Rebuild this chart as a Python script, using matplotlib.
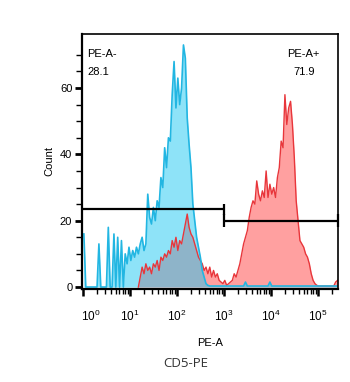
import numpy as np
import matplotlib.pyplot as plt
from matplotlib.ticker import FixedLocator, LogLocator, NullFormatter
from matplotlib.transforms import ScaledTranslation

plt.rcParams['font.family'] = ['Liberation Sans', 'DejaVu Sans']
plt.rcParams['mathtext.fontset'] = 'custom'
plt.rcParams['mathtext.rm'] = 'Liberation Sans'
plt.rcParams['mathtext.it'] = 'Liberation Sans:italic'

# histogram bins, 0.04 decade wide starting at 10^0
bin_width = 0.04

# control (blue) counts per bin
blue_counts = [16, 0, 0, 0, 0, 0, 0, 0, 13, 0, 0, 0, 0, 18, 0, 0, 16, 0, 15, 0,
               14, 0, 10, 7, 12, 8, 11, 9, 12, 10, 13, 15, 11, 13, 28, 21, 19, 24, 20, 26,
               24, 33, 30, 42, 36, 45, 44, 58, 68, 54, 63, 55, 60, 73, 69, 51, 43, 36, 25, 20,
               15, 12, 9, 5, 3, 1, 0.5, 0.3, 0.3, 0.3, 0.3, 0.3, 0.3, 0.3, 0.3, 0.3, 0.3, 0.3, 0.3, 0.3,
               0.3, 0.3, 0.3, 0.3, 0.3, 0.3, 1.5, 0.3, 0.3, 0.3, 0.3, 0.3, 0.3, 0.3, 0.3, 0.3, 0.3, 0.3, 0.3, 1.5,
               0.3, 0.3, 0.3, 0.3, 0.3, 0.3, 0.3, 0.3, 0.3, 0.3, 0.3, 0.3, 0.3, 0.3, 0.3, 0.3, 0.3, 0.3, 0.3, 0.3,
               0.3, 0.3, 0.3, 0.3, 0.3, 0.3, 0.3, 0.3, 0.3, 0.3, 0.3, 0.3, 0.3, 0.3, 0.3, 0.3]

# CD5-PE stained (red) counts per bin
red_counts = [0, 0, 0, 0, 0, 0, 0, 0, 0, 0, 0, 0, 0, 0, 0, 0, 0, 0, 0, 0,
              0, 0, 0, 0, 0, 0, 0, 0, 0, 0, 3, 6, 4, 7, 5, 6, 4, 7, 6, 8,
              5, 9, 8, 10, 9, 11, 10, 14, 12, 15, 11, 14, 13, 16, 19, 22, 18, 16, 15, 13,
              11, 9, 8, 7, 5, 6, 4, 6, 3, 5, 3, 4, 2, 1.5, 1, 2, 0.5, 1, 1.5, 2,
              4, 3, 5, 7, 10, 13, 15, 17, 21, 24, 26, 25, 32, 28, 26, 29, 27, 35, 27, 31,
              28, 30, 27, 33, 36, 44, 42, 58, 49, 54, 56, 49, 39, 26, 20, 14, 13, 12, 10, 9,
              7, 4, 2, 1, 0.5, 0.3, 0.3, 0.3, 0.3, 0.3, 0.3, 0.3, 0.3, 0.3, 1.5, 2]

decades = [0, 1, 2, 3, 4, 5]
neg_gate = (10 ** -0.02, 1e3, 23.5)   # x start, x end, count level
pos_gate = (1e3, 10 ** 5.43, 20)
neg_label, neg_pct = 'PE-A-', '28.1'
pos_label, pos_pct = 'PE-A+', '71.9'

x = 10 ** ((np.arange(len(blue_counts)) + 0.5) * bin_width)
blue = np.array(blue_counts)
red = np.array(red_counts)

fig = plt.figure(figsize=(3.5, 3.82), dpi=100)
ax = fig.add_axes([82 / 350, 93 / 382, 256 / 350, 255 / 382])

# red first so the translucent blue sits on top of it
ax.fill_between(x[29:], red[29:], 0, color='#ffa0a0', lw=0)
ax.plot(x[29:], red[29:], color='#e8363b', lw=1)
ax.fill_between(x, blue, 0, color='#1ec8f2', alpha=0.5, lw=0)
ax.plot(x, blue, color='#22b6e2', lw=1.2)

# gates
ax.hlines(neg_gate[2], neg_gate[0], neg_gate[1], color='black', lw=1.6, clip_on=False)
ax.vlines(neg_gate[1], neg_gate[2] - 1.7, neg_gate[2] + 1.5, color='black', lw=1.6)
ax.hlines(pos_gate[2], pos_gate[0], pos_gate[1], color='black', lw=1.6, clip_on=False)
ax.vlines([pos_gate[0], pos_gate[1]], pos_gate[2] - 2, pos_gate[2] + 2,
          color='black', lw=1.6, clip_on=False)

ax.set_xscale('log')
ax.set_xlim(10 ** -0.02, 10 ** 5.43)
ax.set_ylim(-0.6, 76.3)

ax.set_xticks([10 ** d for d in decades])
ax.set_xticklabels(['$10^{%d}$' % d for d in decades])
ax.xaxis.set_minor_locator(LogLocator(base=10, subs=np.arange(2, 10)))
ax.xaxis.set_minor_formatter(NullFormatter())
ax.set_yticks([0, 20, 40, 60])
ax.yaxis.set_minor_locator(FixedLocator([5, 10, 15, 25, 30, 35, 45, 50, 55, 65, 70]))

ax.tick_params(axis='x', which='major', length=5, width=1.8, pad=9, labelsize=8.5)
ax.tick_params(axis='x', which='minor', length=3.5, width=1)
ax.tick_params(axis='y', which='major', length=5, width=2, pad=2, labelsize=8)
ax.tick_params(axis='y', which='minor', length=4, width=1)

# first decade label sits a bit right of its tick
first = ax.get_xticklabels()[0]
first.set_transform(first.get_transform() + ScaledTranslation(8 / 100, 0, fig.dpi_scale_trans))

for side in ['top', 'right']:
    ax.spines[side].set_linewidth(1.2)
for side in ['left', 'bottom']:
    ax.spines[side].set_linewidth(1.6)

ax.set_xlabel('PE-A', fontsize=8, labelpad=10)
ax.set_ylabel('Count', fontsize=8, labelpad=4)

ax.text(0.02, 0.91, neg_label, transform=ax.transAxes, fontsize=8)
ax.text(0.02, 0.839, neg_pct, transform=ax.transAxes, fontsize=8)
ax.text(0.926, 0.91, pos_label, transform=ax.transAxes, fontsize=8, ha='right')
ax.text(0.91, 0.839, pos_pct, transform=ax.transAxes, fontsize=8, ha='right')

fig.text(186 / 350, 15 / 382, 'CD5-PE', ha='center', va='baseline', fontsize=9.5,
         family=['Open Sans', 'DejaVu Sans'], color='#333333')

fig.savefig('out.png', dpi=100)
